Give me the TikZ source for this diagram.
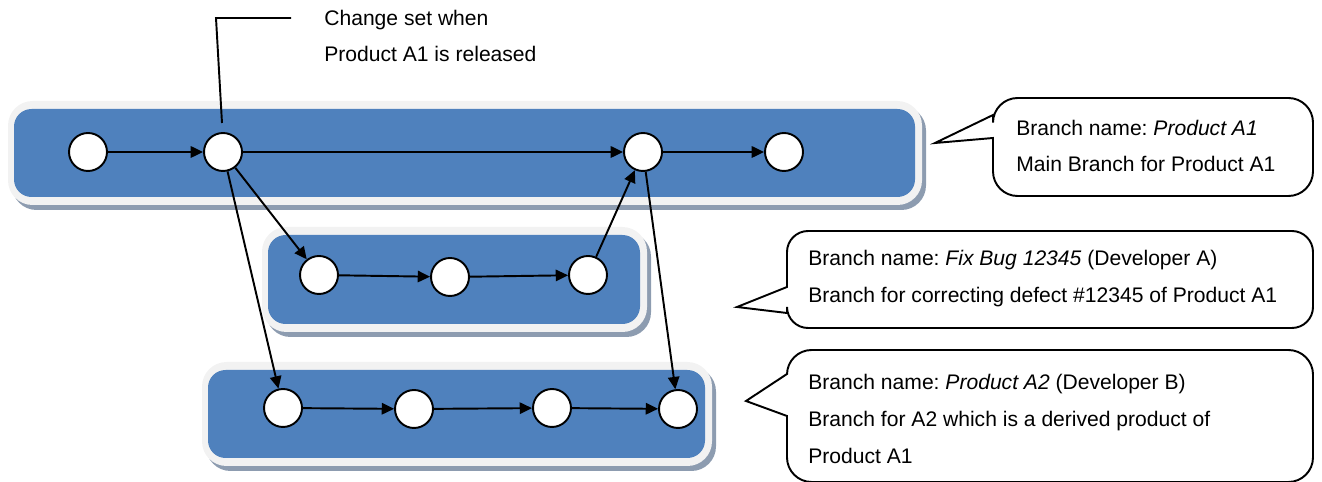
\documentclass[tikz,border=0pt]{standalone}
\usepackage{fontspec}
\setmainfont{Liberation Sans}
\usepackage{tikz}
\usepackage{xcolor}
\usetikzlibrary{arrows.meta}
\frenchspacing

\definecolor{laneblue}{HTML}{4F81BD}
\definecolor{laneedge}{HTML}{F2F2F2}
\definecolor{laneshade}{HTML}{8D9CB0}

\begin{document}
\begin{tikzpicture}[x=0.02cm,y=-0.02cm,
		commit/.style={circle,draw,fill=white,line width=1.1pt,minimum size=0.76cm,inner sep=0pt},
		flow/.style={line width=1.1pt,-{Triangle[length=7pt,width=6.5pt]}},
		note/.style={anchor=west,align=left,font=\fontsize{12}{21}\selectfont,inner sep=0pt},
		balloon/.style={draw,fill=white,line width=1.1pt}]
	\useasboundingbox (0,0) rectangle (1322,482);

	% Three branch lanes
	\foreach \xa/\ya/\xb/\yb in {8/101/922/205, 262/227/647/332, 202/362/712/466} {
		\fill[laneshade,rounded corners=14] (\xa+4,\ya+5) rectangle (\xb+4,\yb+5);
		\fill[laneedge,rounded corners=14] (\xa,\ya) rectangle (\xb,\yb);
		\fill[laneblue,rounded corners=10] (\xa+6,\ya+8) rectangle (\xb-7,\yb-8);
	}

	% Commits
	\node[commit] (a1) at (88,152) {};
	\node[commit] (a2) at (223,152) {};
	\node[commit] (a3) at (643,152) {};
	\node[commit] (a4) at (784,152) {};
	\node[commit] (f1) at (319,275) {};
	\node[commit] (f2) at (450,277) {};
	\node[commit] (f3) at (588,275) {};
	\node[commit] (p1) at (283,408) {};
	\node[commit] (p2) at (414,409) {};
	\node[commit] (p3) at (552,408) {};
	\node[commit] (p4) at (678,409) {};

	% Arrows
	\draw[flow] (a1) -- (a2);
	\draw[flow] (a2) -- (a3);
	\draw[flow] (a3) -- (a4);
	\draw[flow] (a2) -- (f1);
	\draw[flow] (f1) -- (f2);
	\draw[flow] (f2) -- (f3);
	\draw[flow] (f3) -- (a3);
	\draw[flow] (a2) -- (p1);
	\draw[flow] (p1) -- (p2);
	\draw[flow] (p2) -- (p3);
	\draw[flow] (p3) -- (p4);
	\draw[flow] (a3) -- (p4);

	% Release label
	\node[note] (release) at (324,36) {Change set when\\Product A1 is released};
	\coordinate (relend) at (291,18);
	\coordinate (reltip) at (222,123);
	\draw[line width=1.1pt] (relend) -- (216,18) -- (reltip);

	% Callouts
	\draw[balloon] (935,143) -- (993,138) [rounded corners=14] -- (993,196) -- (1313,196) -- (1313,98) -- (993,98) [sharp corners] -- (993,115) -- cycle;
	\node[note] (mainnote) at (1016,146) {Branch name: \textit{Product A1}\\Main Branch for Product A1};

	\draw[balloon] (737,307) -- (787,313) [rounded corners=12] -- (787,328) -- (1313,328) -- (1313,231) -- (787,231) [sharp corners] -- (787,287) -- cycle;
	\node[note] (fixnote) at (808,279) {Branch name: \textit{Fix Bug 12345} (Developer A)\\Branch for correcting defect \#12345 of Product A1};

	\draw[balloon] (746,401) -- (787,416) [rounded corners=14] -- (787,482) -- (1313,482) -- (1313,350) -- (787,350) [sharp corners] -- (787,374) -- cycle;
	\node[note] (prodnote) at (808,419) {Branch name: \textit{Product A2} (Developer B)\\Branch for A2 which is a derived product of\\Product A1};
\end{tikzpicture}
\end{document}
